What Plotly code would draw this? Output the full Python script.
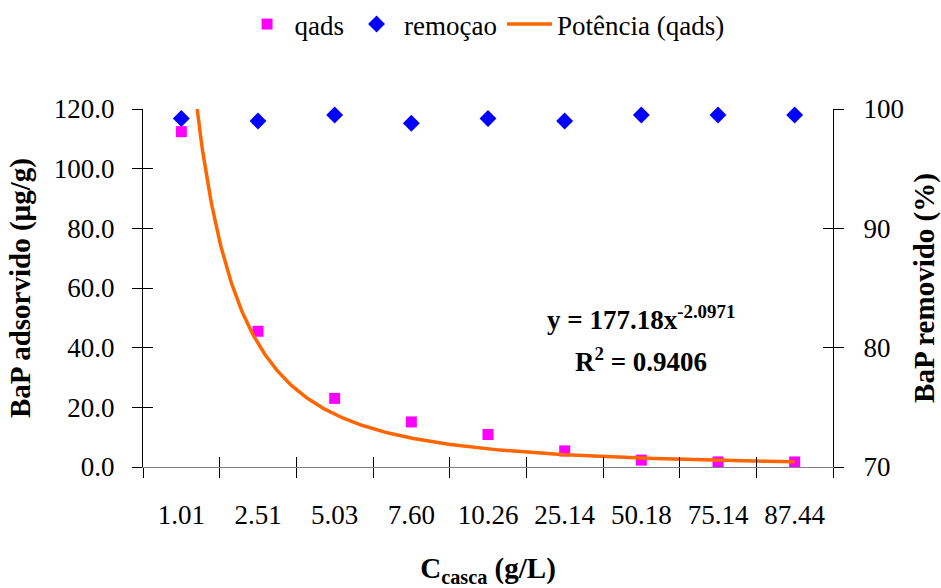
import numpy as np
import plotly.graph_objects as go

categories = ["1.01", "2.51", "5.03", "7.60", "10.26", "25.14", "50.18", "75.14", "87.44"]
qads = [112.4, 45.5, 23.0, 15.1, 10.9, 5.4, 2.3, 1.7, 1.7]
remocao = [99.2, 99.0, 99.5, 98.8, 99.2, 99.0, 99.5, 99.5, 99.5]
# power trendline coefficients shown on the chart
trend_a = 177.18
trend_b = -2.0971
r2 = 0.9406

idx = np.arange(1, len(categories) + 1)
xt = np.linspace(1, len(categories), 400)
yt = trend_a * xt ** trend_b

FONT = "Times New Roman, Liberation Serif, serif"
n = len(categories)
xr = [0.5, n + 0.5]

fig = go.Figure()
fig.add_trace(go.Scatter(x=idx, y=qads, mode="markers", name="qads",
                         marker=dict(symbol="square", size=11, color="#FF00FF"),
                         cliponaxis=False))
fig.add_trace(go.Scatter(x=idx, y=remocao, mode="markers", name="remoçao", yaxis="y2",
                         marker=dict(symbol="diamond", size=13, color="#0000FF"),
                         cliponaxis=False))
fig.add_trace(go.Scatter(x=xt, y=yt, mode="lines", name="Potência (qads)",
                         line=dict(color="#FF6600", width=3.5)))

# empty helper traces so the overlay tick axes (inside/outside crossing ticks) get drawn
for xa, ya in [("x2", "y"), ("x3", "y"), ("x", "y3"), ("x", "y4")]:
    fig.add_trace(go.Scatter(x=[], y=[], xaxis=xa, yaxis=ya, showlegend=False,
                             hoverinfo="skip", mode="markers"))

fig.update_layout(
    width=941, height=588,
    margin=dict(l=143, r=108, t=109, b=121, autoexpand=False),
    plot_bgcolor="white", paper_bgcolor="white",
    font=dict(family=FONT, size=27, color="black"),
    showlegend=True,
    legend=dict(orientation="h", x=0.495, xanchor="center", y=1.0, yref="container",
                yanchor="top", font=dict(size=27), itemwidth=45, bgcolor="rgba(0,0,0,0)"),
    xaxis=dict(range=xr, tickmode="array", tickvals=list(idx), ticktext=categories,
               ticks="outside", ticklen=10, tickcolor="rgba(0,0,0,0)",
               ticklabelstandoff=14, automargin=False,
               showline=True, linecolor="#808080", linewidth=1, showgrid=False, zeroline=False,
               title=dict(text="<b>C<sub>casca</sub> (g/L)</b>", font=dict(size=29), standoff=30)),
    xaxis2=dict(range=xr, overlaying="x", anchor="y", tickmode="linear", tick0=0.5, dtick=1,
                ticks="outside", ticklen=10, tickcolor="black", showticklabels=False,
                showline=False, showgrid=False, zeroline=False, automargin=False),
    xaxis3=dict(range=xr, overlaying="x", anchor="y", tickmode="linear", tick0=0.5, dtick=1,
                ticks="inside", ticklen=10, tickcolor="black", showticklabels=False,
                showline=False, showgrid=False, zeroline=False, automargin=False),
    yaxis=dict(range=[0, 120], tickmode="linear", tick0=0, dtick=20, tickformat=".1f",
               ticks="outside", ticklen=10, tickcolor="black", ticklabelstandoff=12,
               automargin=False,
               showline=True, linecolor="black", linewidth=1, showgrid=False, zeroline=False,
               title=dict(text="<b>BaP adsorvido (µg/g)</b>", font=dict(size=29), standoff=14)),
    yaxis3=dict(range=[0, 120], overlaying="y", anchor="x", side="left", tickmode="linear",
                tick0=0, dtick=20, ticks="inside", ticklen=10, tickcolor="black",
                showticklabels=False, showline=False, showgrid=False, zeroline=False,
                automargin=False),
    yaxis2=dict(range=[70, 100], overlaying="y", anchor="x", side="right", tickmode="linear",
                tick0=70, dtick=10, ticks="outside", ticklen=10, tickcolor="black",
                ticklabelstandoff=14, automargin=False,
                showline=True, linecolor="black", linewidth=1, showgrid=False, zeroline=False,
                title=dict(text="<b>BaP removido (%)</b>", font=dict(size=29), standoff=10)),
    yaxis4=dict(range=[70, 100], overlaying="y", anchor="x", side="right", tickmode="linear",
                tick0=70, dtick=10, ticks="inside", ticklen=10, tickcolor="black",
                showticklabels=False, showline=False, showgrid=False, zeroline=False,
                automargin=False),
)

fig.add_annotation(x=7, y=50, xref="x", yref="y", showarrow=False,
                   text=f"<b>y = {trend_a}x<sup>{trend_b}</sup></b>", font=dict(size=27))
fig.add_annotation(x=7, y=36, xref="x", yref="y", showarrow=False,
                   text=f"<b>R<sup>2</sup> = {r2}</b>", font=dict(size=27))

fig.write_html("out.html")
